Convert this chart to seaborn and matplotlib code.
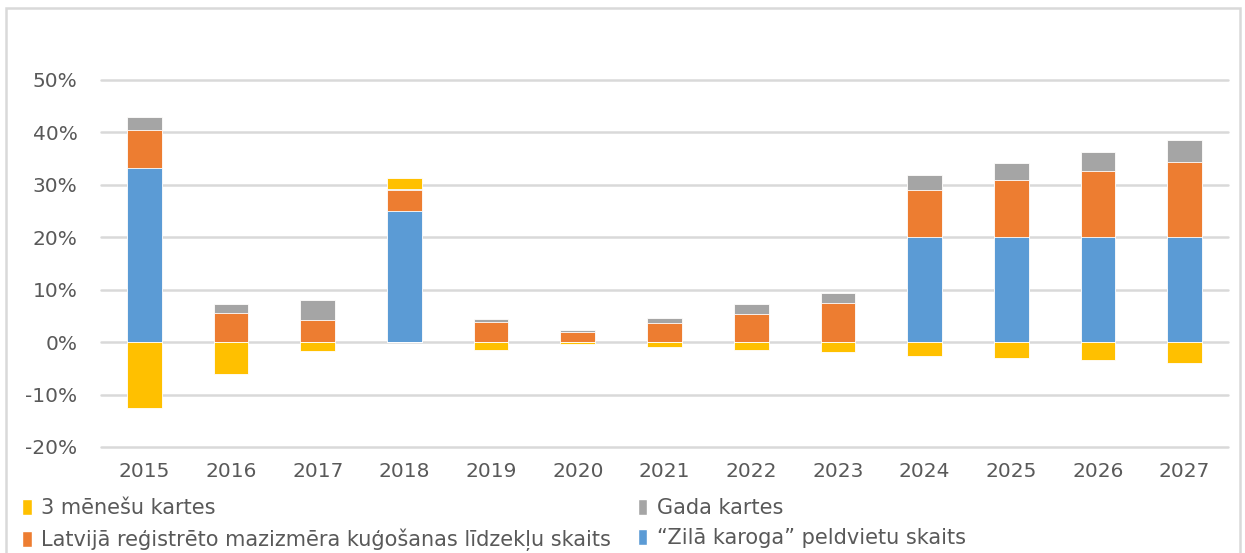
import matplotlib
matplotlib.use("Agg")
import matplotlib.pyplot as plt
from matplotlib.patches import Rectangle, Patch
from matplotlib.ticker import FuncFormatter
import numpy as np
import pandas as pd
import seaborn as sns

# Shares by year, in percent
years = ["2015", "2016", "2017", "2018", "2019", "2020", "2021",
         "2022", "2023", "2024", "2025", "2026", "2027"]
zila_karoga = [33.3, 0, 0, 25.0, 0, 0, 0, 0, 0, 20.0, 20.0, 20.0, 20.0]
kugosanas = [7.1, 5.6, 4.2, 4.0, 3.9, 2.0, 3.7, 5.4, 7.4, 9.1, 10.9, 12.6, 14.4]
gada_kartes = [2.5, 1.7, 3.9, 0.2, 0.5, 0.4, 0.9, 1.8, 1.9, 2.7, 3.2, 3.7, 4.2]
menesu_kartes = [-12.5, -6.1, -1.6, 2.2, -1.5, -0.4, -1.0, -1.5, -1.9, -2.6, -3.0, -3.5, -4.0]

labels = {
    "yellow": "3 mēnešu kartes",
    "gray": "Gada kartes",
    "orange": "Latvijā reģistrēto mazizmēra kuģošanas līdzekļu skaits",
    "blue": "“Zilā karoga” peldvietu skaits",
}
colors = {"blue": "#5B9BD5", "orange": "#ED7D31", "gray": "#A5A5A5", "yellow": "#FFC000"}
text_color = "#595959"
grid_color = "#D9D9D9"

sns.set_theme(style="white")
plt.rcParams["font.family"] = ["DejaVu Sans"]

df = pd.DataFrame({
    "year": years,
    "blue": zila_karoga,
    "orange": kugosanas,
    "gray": gada_kartes,
    "yellow": menesu_kartes,
})
pos_yellow = df["yellow"].clip(lower=0)
neg_yellow = df["yellow"].clip(upper=0)

# cumulative heights of the positive stack, drawn tallest first
layers = [
    ("yellow", df["blue"] + df["orange"] + df["gray"] + pos_yellow),
    ("gray", df["blue"] + df["orange"] + df["gray"]),
    ("orange", df["blue"] + df["orange"]),
    ("blue", df["blue"]),
]

fig = plt.figure(figsize=(12.45, 5.53), dpi=100)
ax = fig.add_axes([101 / 1245, 1 - 447 / 553, (1228 - 101) / 1245, (447 - 80) / 553])

ticks = np.arange(-20, 51, 10)
for t in ticks:
    ax.axhline(t, color=grid_color, lw=1.8, zorder=0, clip_on=False)

for key, heights in layers:
    sns.barplot(x=df["year"], y=heights, color=colors[key], width=0.4,
                saturation=1, edgecolor="white", linewidth=0.6, ax=ax,
                order=years, zorder=2)
sns.barplot(x=df["year"], y=neg_yellow, color=colors["yellow"], width=0.4,
            saturation=1, edgecolor="white", linewidth=0.6, ax=ax,
            order=years, zorder=2)

ax.set_xlim(-0.5, len(years) - 0.5)
ax.set_ylim(-20, 50)
ax.set_yticks(ticks)
ax.yaxis.set_major_formatter(FuncFormatter(lambda v, _: f"{v:.0f}%"))
ax.set_xlabel("")
ax.set_ylabel("")
for s in ax.spines.values():
    s.set_visible(False)
ax.tick_params(axis="y", length=0, pad=17, labelsize=14.5, labelcolor=text_color)
ax.tick_params(axis="x", length=0, pad=11, labelsize=14.5, labelcolor=text_color)

handles = [
    Patch(facecolor=colors["yellow"], label=labels["yellow"]),
    Patch(facecolor=colors["orange"], label=labels["orange"]),
    Patch(facecolor=colors["gray"], label=labels["gray"]),
    Patch(facecolor=colors["blue"], label=labels["blue"]),
]
fig.legend(handles=handles, ncol=2, loc="upper left",
           bbox_to_anchor=(14 / 1245, 1 - 490 / 553), frameon=False,
           fontsize=15, labelcolor=text_color, handlelength=0.45,
           handleheight=0.8, handletextpad=0.45, columnspacing=1.3,
           labelspacing=0.48, borderaxespad=0)

# chart frame
fig.add_artist(Rectangle((6 / 1245, -0.05), (1240 - 6) / 1245, 1.05 - 8 / 553,
                         transform=fig.transFigure, fill=False,
                         edgecolor=grid_color, lw=1.8))

fig.savefig("out.png", dpi=100)
